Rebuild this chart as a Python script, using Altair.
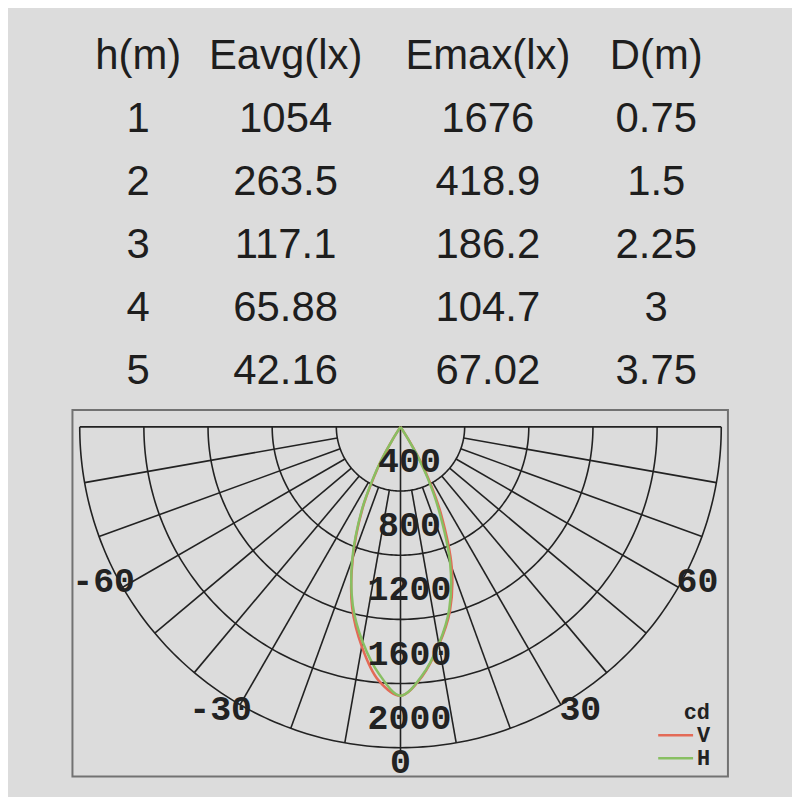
import altair as alt
import numpy as np
import pandas as pd

# ---------------- data ----------------
headers = ["h(m)", "Eavg(lx)", "Emax(lx)", "D(m)"]
h_m = [1, 2, 3, 4, 5]
eavg_lx = [1054, 263.5, 117.1, 65.88, 42.16]
emax_lx = [1676, 418.9, 186.2, 104.7, 67.02]
d_m = [0.75, 1.5, 2.25, 3, 3.75]

# luminous intensity distribution (cd), angle 0 = straight down
angles_deg = [-34, -32, -30, -28, -25, -20, -15, -10, -5, 0, 5, 10, 15, 20, 25, 28, 30, 32, 34]
h_cd = [0, 100, 240, 365, 570, 880, 1150, 1360, 1545, 1676, 1555, 1375, 1175, 905, 555, 360, 230, 90, 0]
v_cd = [0, 90, 225, 350, 560, 870, 1165, 1390, 1585, 1676, 1560, 1380, 1190, 935, 595, 390, 255, 105, 0]

rings_cd = [400, 800, 1200, 1600, 2000]
spokes_deg = [-80, -70, -60, -50, -40, -30, -20, -10, 10, 20, 30, 40, 50, 60, 70, 80]
angle_ticks = [-60, -30, 0, 30, 60]

# ---------------- geometry of the polar panel ----------------
W, H = 658, 368
PX = 0.161            # pixels per cd
CX, CY = 329.3, 17.0  # pole position inside the panel
xs = alt.Scale(domain=[-CX / PX, (W - CX) / PX], nice=False, zero=False)
ys = alt.Scale(domain=[-CY / PX, (H - CY) / PX], nice=False, zero=False, reverse=True)


def pol(r, a):
    t = np.radians(a)
    return r * np.sin(t), r * np.cos(t)


grid_rows = []
gid = 0
for r in rings_cd:
    for i, a in enumerate(np.arange(-90, 90.5, 1.0)):
        x, y = pol(r, a)
        grid_rows.append({"id": gid, "o": i, "x": x, "y": y})
    gid += 1
for a in spokes_deg:
    for i, r in enumerate([rings_cd[0], rings_cd[-1]]):
        x, y = pol(r, a)
        grid_rows.append({"id": gid, "o": i, "x": x, "y": y})
    gid += 1
for i, r in enumerate([0, rings_cd[-1] * 1.015]):
    grid_rows.append({"id": gid, "o": i, "x": 0.0, "y": r})
gid += 1
for i, xv in enumerate([-rings_cd[-1], rings_cd[-1]]):
    grid_rows.append({"id": gid, "o": i, "x": xv, "y": 0.0})
grid_df = pd.DataFrame(grid_rows)

curve_rows = []
for plane, vals in [("V", v_cd), ("H", h_cd)]:
    for i, (a, r) in enumerate(zip(angles_deg, vals)):
        x, y = pol(r, a)
        curve_rows.append({"plane": plane, "o": i, "x": x, "y": y})
curve_df = pd.DataFrame(curve_rows)

ring_df = pd.DataFrame({"r": rings_cd, "label": [str(r) for r in rings_cd], "x": 0.0})

LR = 336 / PX
tick_df = pd.DataFrame({"a": angle_ticks, "label": [str(a) for a in angle_ticks]})
pos_angle = np.radians(tick_df["a"] + np.sign(tick_df["a"]) * 2.5)
tick_df["x"] = LR * np.sin(pos_angle)
tick_df["y"] = LR * np.cos(pos_angle)

X = lambda f: alt.X(f, scale=xs, axis=None)
Y = lambda f: alt.Y(f, scale=ys, axis=None)

grid = alt.Chart(grid_df).mark_line(color="#222222", strokeWidth=1.6).encode(
    x=X("x:Q"), y=Y("y:Q"), detail="id:N", order="o:Q"
)

curves = alt.Chart(curve_df).mark_line(strokeWidth=2.5, interpolate="catmull-rom").encode(
    x=X("x:Q"),
    y=Y("y:Q"),
    order="o:Q",
    color=alt.Color(
        "plane:N",
        scale=alt.Scale(domain=["V", "H"], range=["#e36a57", "#88bf62"]),
        sort=["V", "H"],
        legend=alt.Legend(
            title="cd", orient="none", legendX=594, legendY=694,
            symbolType="M-1.75,0H1.75", symbolSize=400, symbolStrokeWidth=2.5,
            labelFont="Liberation Mono", labelFontSize=22, labelFontWeight="bold",
            labelColor="#222222", labelOffset=10,
            titleFont="Liberation Mono", titleFontSize=22, titleFontWeight="bold",
            titleColor="#222222", titleAnchor="end", titlePadding=0,
            rowPadding=-1, padding=0, direction="vertical",
        ),
    ),
)

mono = dict(font="Liberation Mono", fontSize=35, fontWeight="bold", color="#222222",
            baseline="alphabetic", align="center")

ring_labels = alt.Chart(ring_df).mark_text(dx=9, dy=-19, **mono).encode(
    x=X("x:Q"), y=Y("r:Q"), text="label:N"
)
tick_labels = alt.Chart(tick_df).mark_text(dy=11, **mono).encode(
    x=X("x:Q"), y=Y("y:Q"), text="label:N"
)

polar = alt.layer(grid, curves, ring_labels, tick_labels).properties(
    width=W, height=H, view=alt.ViewBackground(stroke="#727272", strokeWidth=2, fill="#dcdcdc")
)

# ---------------- table ----------------
columns = [headers[0:1] + [str(v) for v in h_m],
           headers[1:2] + [str(v) for v in eavg_lx],
           headers[2:3] + [str(v) for v in emax_lx],
           headers[3:4] + [str(v) for v in d_m]]
col_x = [66, 214, 417, 586]
table_layers = []
for cx, col in zip(col_x, columns):
    df = pd.DataFrame({"row": list(range(len(col))), "txt": col})
    table_layers.append(
        alt.Chart(df).mark_text(font="Liberation Sans", fontSize=42, color="#1e1e1e",
                                baseline="alphabetic", align="center").encode(
            x=alt.value(cx),
            y=alt.Y("row:Q", scale=alt.Scale(domain=[0, 5], range=[59, 375]), axis=None),
            text="txt:N",
        )
    )
table = alt.layer(*table_layers).properties(width=W, height=401)

chart = alt.vconcat(table, polar, spacing=0, bounds="flush").properties(
    padding={"left": 62.7, "top": 0, "right": 63.3, "bottom": 15}
).configure(background="#dcdcdc").configure_view(stroke="transparent")

chart.save("out.html", embed_options={"renderer": "svg", "actions": False})
